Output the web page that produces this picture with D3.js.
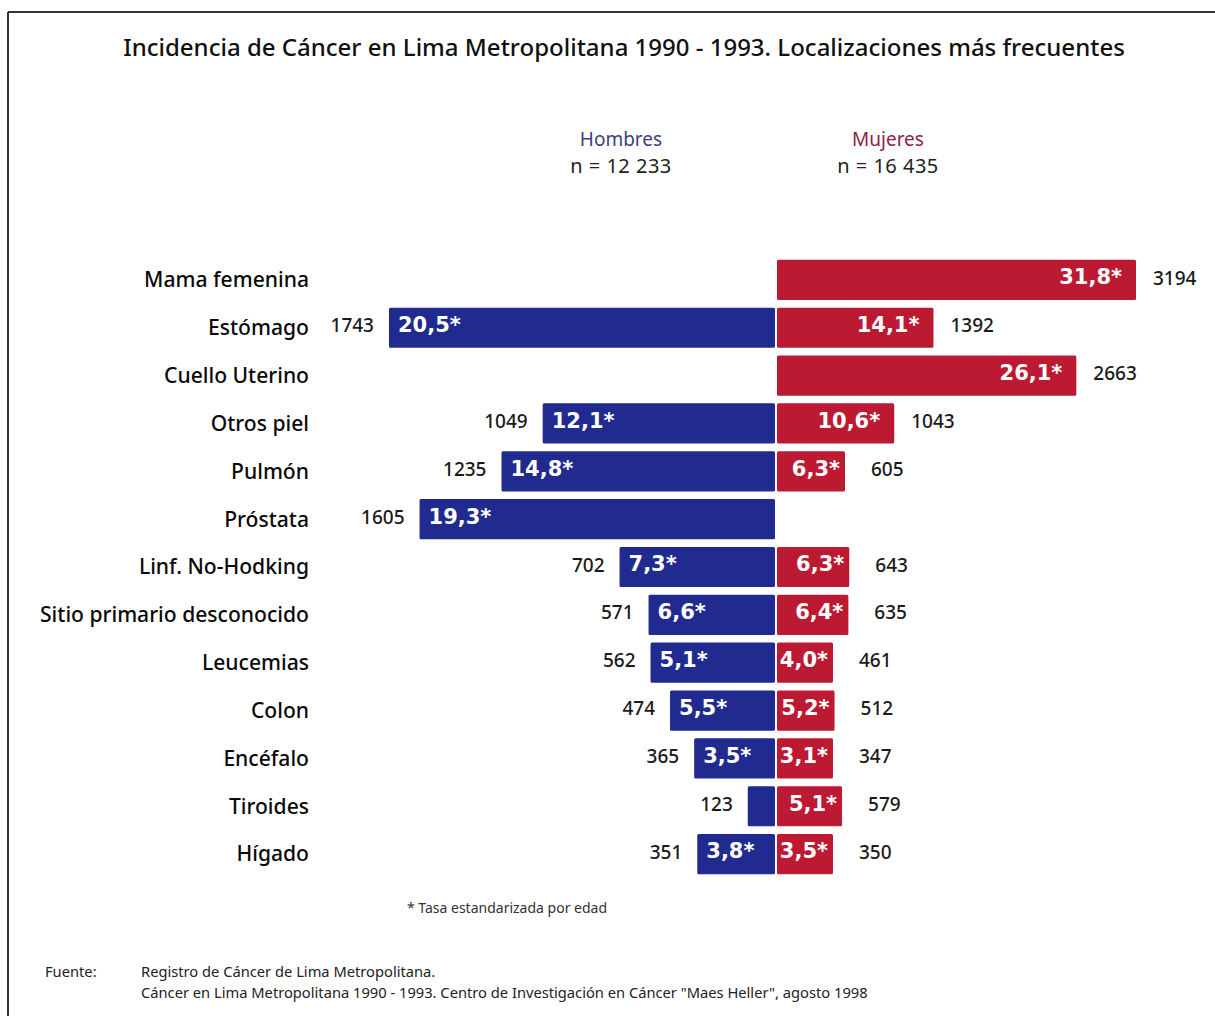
<!DOCTYPE html>
<html><head><meta charset="utf-8">
<script src="https://cdn.jsdelivr.net/npm/d3@7"></script>
<style>body{margin:0;background:#fff}svg{display:block}</style>
</head><body>
<script>
const categories = ["Mama femenina","Estómago","Cuello Uterino","Otros piel","Pulmón","Próstata","Linf. No-Hodking","Sitio primario desconocido","Leucemias","Colon","Encéfalo","Tiroides","Hígado"];
const menCounts   = [null,1743,null,1049,1235,1605,702,571,562,474,365,123,351];
const menRates    = [null,"20,5*",null,"12,1*","14,8*","19,3*","7,3*","6,6*","5,1*","5,5*","3,5*",null,"3,8*"];
const womenCounts = [3194,1392,2663,1043,605,null,643,635,461,512,347,579,350];
const womenRates  = ["31,8*","14,1*","26,1*","10,6*","6,3*",null,"6,3*","6,4*","4,0*","5,2*","3,1*","5,1*","3,5*"];
const titleText = "Incidencia de Cáncer en Lima Metropolitana 1990 - 1993. Localizaciones más frecuentes";
const groups = [{name:"Hombres", n:"n = 12 233"},{name:"Mujeres", n:"n = 16 435"}];
const footnote = "* Tasa estandarizada por edad";
const sourceLines = ["Registro de Cáncer de Lima Metropolitana.","Cáncer en Lima Metropolitana 1990 - 1993. Centro de Investigación en Cáncer \"Maes Heller\", agosto 1998"];

const W=1215,H=1016, cx=776;
const svg=d3.select("body").append("svg").attr("width",W).attr("height",H);
const font="'Noto Sans', sans-serif";
const blue="#212a8f", red="#bc1a33";

// frame
svg.append("line").attr("x1",8).attr("x2",W).attr("y1",12).attr("y2",12).attr("stroke","#333").attr("stroke-width",2);
svg.append("line").attr("x1",8).attr("x2",8).attr("y1",12).attr("y2",H).attr("stroke","#333").attr("stroke-width",2);

svg.append("text").attr("x",624).attr("y",56).attr("text-anchor","middle").attr("font-family",font).attr("font-weight",500).attr("font-size",24).attr("fill","#111").text(titleText);

const gx=[621,888], gc=["#3b4183","#8e2244"];
groups.forEach((g,i)=>{
  svg.append("text").attr("x",gx[i]).attr("y",146).attr("text-anchor","middle").attr("font-family",font).attr("font-size",19).attr("fill",gc[i]).text(g.name);
  svg.append("text").attr("x",gx[i]).attr("y",173).attr("text-anchor","middle").attr("font-family",font).attr("font-size",20).attr("letter-spacing",0.5).attr("fill","#222").text(g.n);
});

const y=d3.scaleBand().domain(categories).range([256,878]).paddingInner(0.16).paddingOuter(0.08);
const xM=d3.scaleLinear().domain([0,1743]).range([0,386]);
const xW=d3.scaleLinear().domain([0,3194]).range([0,359]);

const rows=categories.map((c,i)=>({c,mc:menCounts[i],mr:menRates[i],wc:womenCounts[i],wr:womenRates[i]}));

// category labels
svg.append("g").selectAll("text").data(rows).join("text")
  .attr("x",309).attr("y",d=>y(d.c)+y.bandwidth()/2).attr("dy","0.35em")
  .attr("text-anchor","end").attr("font-family",font).attr("font-weight",500).attr("font-size",21.1).attr("fill","#0a0a0a").text(d=>d.c);

const rateFont="'DejaVu Sans', sans-serif";
// men bars
const men=rows.filter(d=>d.mc!=null);
svg.append("g").selectAll("rect").data(men).join("rect")
  .attr("x",d=>cx-1-xM(d.mc)).attr("width",d=>xM(d.mc)).attr("y",d=>y(d.c)).attr("height",y.bandwidth()).attr("fill",blue).attr("rx",1.5);
svg.append("g").selectAll("text").data(men.filter(d=>d.mr)).join("text")
  .attr("x",d=>cx-1-xM(d.mc)+9).attr("y",d=>y(d.c)+y.bandwidth()/2-3).attr("dy","0.35em")
  .attr("font-family",rateFont).attr("font-weight","bold").attr("font-size",21).attr("fill","#fff").text(d=>d.mr);
svg.append("g").selectAll("text").data(men).join("text")
  .attr("x",d=>cx-1-xM(d.mc)-15).attr("y",d=>y(d.c)+y.bandwidth()/2-2).attr("dy","0.35em")
  .attr("text-anchor","end").attr("font-family",font).attr("font-weight",500).attr("font-size",19).attr("fill","#1a1a1a").text(d=>d.mc);

// women bars
const women=rows.filter(d=>d.wc!=null);
const ww=d=>Math.max(xW(d.wc),56);
svg.append("g").selectAll("rect").data(women).join("rect")
  .attr("x",cx+1).attr("width",ww).attr("y",d=>y(d.c)).attr("height",y.bandwidth()).attr("fill",red).attr("rx",1.5);
svg.append("g").selectAll("text").data(women).join("text")
  .attr("x",d=>cx+1+ww(d)-(ww(d)>100?14:5)).attr("y",d=>y(d.c)+y.bandwidth()/2-3).attr("dy","0.35em")
  .attr("text-anchor","end").attr("font-family",rateFont).attr("font-weight","bold").attr("font-size",21).attr("fill","#fff").text(d=>d.wr);
svg.append("g").selectAll("text").data(women).join("text")
  .attr("x",d=>cx+1+ww(d)+(ww(d)>100?17:26)).attr("y",d=>y(d.c)+y.bandwidth()/2-2).attr("dy","0.35em")
  .attr("font-family",font).attr("font-weight",500).attr("font-size",19).attr("fill","#1a1a1a").text(d=>d.wc);

svg.append("text").attr("x",507).attr("y",913).attr("text-anchor","middle").attr("font-family",font).attr("font-size",14).attr("fill","#333").text(footnote);
svg.append("text").attr("x",45).attr("y",977).attr("font-family",font).attr("font-size",14.7).attr("fill","#222").text("Fuente:");
sourceLines.forEach((t,i)=>svg.append("text").attr("x",141).attr("y",977+21*i).attr("font-family",font).attr("font-size",14.7).attr("fill","#222").text(t));
</script>
</body></html>
